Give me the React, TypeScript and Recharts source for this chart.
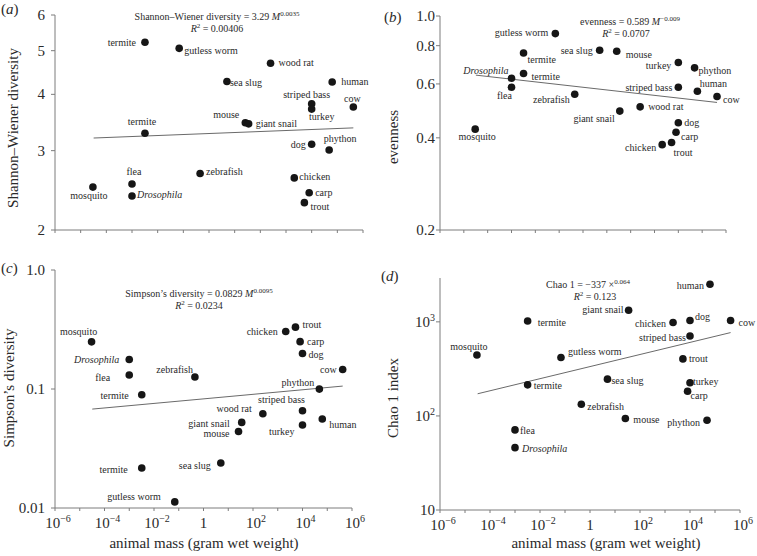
import React from 'react';
import { ScatterChart, Scatter, XAxis, YAxis } from 'recharts';

const animals = ['mosquito', 'Drosophila', 'flea', 'termite', 'termite', 'gutless worm', 'zebrafish', 'sea slug', 'mouse', 'giant snail', 'wood rat', 'chicken', 'trout', 'carp', 'dog', 'striped bass', 'turkey', 'phython', 'human', 'cow'];

// animal mass, gram wet weight
const masses = [3.0e-5, 1e-3, 1e-3, 3.2e-3, 3.2e-3, 0.069, 0.45, 5, 26, 35, 250, 2100, 5200, 8000, 10000, 10000, 10000, 48000, 63000, 420000];

const shannon = [2.49, 2.38, 2.53, 5.22, 3.28, 5.06, 2.67, 4.27, 3.46, 3.44, 4.69, 2.61, 2.3, 2.42, 3.1, 3.81, 3.71, 3.01, 4.26, 3.75];
const evenness = [0.427, 0.626, 0.585, 0.757, 0.649, 0.876, 0.555, 0.773, 0.767, 0.489, 0.505, 0.38, 0.386, 0.417, 0.448, 0.585, 0.705, 0.677, 0.568, 0.546];
const simpson = [0.249, 0.177, 0.131, 0.0894, 0.0217, 0.01125, 0.126, 0.0239, 0.044, 0.0524, 0.0619, 0.304, 0.331, 0.25, 0.199, 0.0656, 0.0498, 0.0998, 0.0559, 0.1457];
const chao1 = [445, 46, 71, 1022, 214, 418, 133, 246, 94, 1327, null, 983, 404, 183, 1032, 708, 225, 90, 2506, 1032];

// fitted power-law lines, end points
const fitMass = [3.2e-5, 4.2e5];
const shannonFit = [3.2, 3.37];
const evennessFit = [0.641, 0.522];
const simpsonFit = [0.0678, 0.1058];
const chaoFit = [172, 769];

const massTicks = [1e-6, 1e-5, 1e-4, 1e-3, 1e-2, 1e-1, 1, 10, 100, 1e3, 1e4, 1e5, 1e6];
const shannonTicks = [2, 3, 4, 5, 6];
const evennessTicks = [0.2, 0.4, 0.6, 0.8, 1.0];
const simpsonTicks = [0.01, 0.1, 1.0];
const chaoTicks = [10, 100, 1000];

// label placement per point: [anchor, dx, dy]
type Place = [string, number, number] | null;
const placeA: Place[] = [
  ['middle', -4, 8], ['start', 5, -1], ['middle', 2, -12], ['end', -9, 0], ['middle', -3, -12],
  ['start', 5, 2], ['start', 6, -2], ['start', 3, 1], ['end', -6, -8], ['start', 7, 0],
  ['start', 8, -1], ['start', 5, -1], ['start', 6, 4], ['start', 6, 0], ['end', -6, 0],
  ['middle', -5, -9], ['middle', 10, 7], ['middle', 11, -11], ['start', 9, -1], ['middle', -1, -8],
];
const placeB: Place[] = [
  ['middle', 2, 7], ['end', -3, -8], ['middle', -7, 8], ['start', 4, 6], ['start', 8, 3],
  ['end', -7, -1], ['end', -5, 5], ['end', -7, 0], ['start', 9, 3], ['end', -5, 7],
  ['start', 8, 0], ['end', -6, 3], ['start', 2, 10], ['start', 5, 4], ['start', 6, 0],
  ['end', -6, 0], ['end', -7, 3], ['start', 4, 3], ['middle', 16, -8], ['start', 6, 3],
];
const placeC: Place[] = [
  ['middle', -13, -10], ['end', -10, 0], ['end', -19, 2], ['end', -13, 1], ['end', -14, 2],
  ['end', -14, -5], ['end', -2, -8], ['end', -10, 3], ['end', -9, 2], ['end', -12, 1],
  ['end', -11, -5], ['end', -8, 0], ['start', 7, -3], ['start', 7, 0], ['start', 6, 1],
  ['middle', -21, -11], ['end', -8, 6], ['end', -5, -7], ['start', 7, 5], ['end', -6, 0],
];
const placeD: Place[] = [
  ['middle', -8, -8], ['start', 7, 1], ['start', 5, 1], ['start', 10, 2], ['start', 6, 1],
  ['start', 7, -6], ['start', 6, 2], ['start', 4, 1], ['start', 8, 1], ['end', -5, -1],
  null, ['end', -7, 1], ['start', 6, 0], ['start', 3, 4], ['start', 5, -4],
  ['end', -4, 2], ['start', 3, -1], ['end', -7, 2], ['end', -6, 1], ['start', 8, 2],
];

const FONT = "'Liberation Serif', 'Times New Roman', serif";
const INK = '#2a2a2a';
const AXIS = '#7c7c7c';

const toRows = (vals: (number | null)[]) =>
  animals
    .map((name, i) => ({ name, i, x: masses[i], y: vals[i] }))
    .filter((r) => r.y != null);

const toFit = (vals: number[]) => fitMass.map((x, i) => ({ x, y: vals[i] }));

const expLabel = (e: number) => (e < 0 ? '\u2212' + Math.abs(e) : String(e));

const PowerText = ({ x, y, e, anchor }: any) => (
  <text x={x} y={y} textAnchor={anchor} fontFamily={FONT} fontSize={15} fill={INK}>
    10
    <tspan dy={-6} fontSize={10}>{expLabel(e)}</tspan>
  </text>
);

const MassTick = (props: any) => {
  const { x, y, payload } = props;
  const e = Math.round(Math.log10(payload.value));
  if (e % 2 !== 0) return <g />;
  if (e === 0) {
    return (
      <text x={x} y={y + 16.5} textAnchor="middle" fontFamily={FONT} fontSize={15} fill={INK}>1</text>
    );
  }
  return <PowerText x={x + 3} y={y + 16.5} e={e} anchor="middle" />;
};

const makeYTick = (fmt: (v: number) => string) => (props: any) => {
  const { x, y, payload } = props;
  return (
    <text x={x} y={y + 5} textAnchor="end" fontFamily={FONT} fontSize={15} fill={INK}>
      {fmt(payload.value)}
    </text>
  );
};

const ChaoTick = (props: any) => {
  const { x, y, payload } = props;
  const e = Math.round(Math.log10(payload.value));
  if (e === 1) {
    return <text x={x} y={y + 5} textAnchor="end" fontFamily={FONT} fontSize={15} fill={INK}>10</text>;
  }
  return <PowerText x={x} y={y + 5} e={e} anchor="end" />;
};

const makeShape = (place: Place[]) => (props: any) => {
  const { cx, cy, payload } = props;
  const p = place[payload.i];
  return (
    <g>
      <circle cx={cx} cy={cy} r={3.8} fill="#161616" />
      {p && (
        <text
          x={cx + p[1]}
          y={cy + p[2] + 3.5}
          textAnchor={p[0]}
          fontFamily={FONT}
          fontSize={10}
          fontStyle={payload.name === 'Drosophila' ? 'italic' : 'normal'}
          fill={INK}
        >
          {payload.name}
        </text>
      )}
    </g>
  );
};

type PanelProps = {
  vals: (number | null)[];
  fit: number[];
  place: Place[];
  yDomain: [number, number];
  yTicks: number[];
  yTick: any;
  yGap: number;
  xLabels: boolean;
  plot: { left: number; top: number; right: number; bottom: number };
};

function Panel({ vals, fit, place, yDomain, yTicks, yTick, yGap, xLabels, plot }: PanelProps) {
  return (
    <div style={{ position: 'absolute', left: 0, top: 0 }}>
      <ScatterChart
        width={757}
        height={556}
        margin={{ top: plot.top, right: 757 - plot.right, bottom: 0, left: 0 }}
      >
        <XAxis
          type="number"
          dataKey="x"
          scale="log"
          domain={[1e-6, 1e6]}
          ticks={massTicks}
          height={556 - plot.bottom}
          tickSize={3}
          tickMargin={0}
          interval={0}
          tick={xLabels ? <MassTick /> : () => <g />}
          axisLine={{ stroke: AXIS }}
          tickLine={{ stroke: AXIS }}
        />
        <YAxis
          type="number"
          dataKey="y"
          scale="log"
          domain={yDomain}
          ticks={yTicks}
          width={plot.left}
          tickSize={4}
          tickMargin={yGap}
          interval={0}
          tick={yTick}
          axisLine={{ stroke: AXIS }}
          tickLine={{ stroke: AXIS }}
        />
        <Scatter
          data={toFit(fit)}
          line={{ stroke: '#6a6a6a', strokeWidth: 1 }}
          shape={() => <g />}
          isAnimationActive={false}
        />
        <Scatter data={toRows(vals)} shape={makeShape(place)} isAnimationActive={false} />
      </ScatterChart>
    </div>
  );
}

const Eq = ({ x, y, lead, sup, tail }: any) => (
  <text x={x} y={y} textAnchor="middle" fontFamily={FONT} fontSize={10} fill={INK}>
    {lead}
    {tail && <tspan fontStyle="italic">{tail}</tspan>}
    <tspan dy={-4} fontSize={7}>{sup}</tspan>
  </text>
);

const R2 = ({ x, y, v }: any) => (
  <text x={x} y={y} textAnchor="middle" fontFamily={FONT} fontSize={10} fill={INK}>
    <tspan fontStyle="italic">R</tspan>
    <tspan dy={-4} fontSize={7}>2</tspan>
    <tspan dy={4}>{' = ' + v}</tspan>
  </text>
);

const Letter = ({ x, y, c }: any) => (
  <text x={x} y={y} fontFamily={FONT} fontSize={15} fill={INK}>
    (<tspan fontStyle="italic">{c}</tspan>)
  </text>
);

const VTitle = ({ x, y, t }: any) => (
  <text
    x={x}
    y={y}
    transform={`rotate(-90 ${x} ${y})`}
    textAnchor="middle"
    dominantBaseline="central"
    fontFamily={FONT}
    fontSize={15}
    fill={INK}
  >
    {t}
  </text>
);

export default function App() {
  return (
    <div style={{ position: 'absolute', left: 0, top: 0, width: 757, height: 556, background: '#fff', fontFamily: FONT }}>
      <Panel
        vals={shannon}
        fit={shannonFit}
        place={placeA}
        yDomain={[2, 6]}
        yTicks={shannonTicks}
        yTick={makeYTick((v) => String(v))}
        yGap={6}
        xLabels={false}
        plot={{ left: 55, top: 15, right: 363, bottom: 230 }}
      />
      <Panel
        vals={evenness}
        fit={evennessFit}
        place={placeB}
        yDomain={[0.2, 1.0]}
        yTicks={evennessTicks}
        yTick={makeYTick((v) => v.toFixed(1))}
        yGap={1}
        xLabels={false}
        plot={{ left: 440, top: 16, right: 726, bottom: 230 }}
      />
      <Panel
        vals={simpson}
        fit={simpsonFit}
        place={placeC}
        yDomain={[0.01, 1.0]}
        yTicks={simpsonTicks}
        yTick={makeYTick((v) => (v >= 1 ? '1.0' : String(v)))}
        yGap={6}
        xLabels={true}
        plot={{ left: 55, top: 270, right: 352, bottom: 508 }}
      />
      <Panel
        vals={chao1}
        fit={chaoFit}
        place={placeD}
        yDomain={[10, 2925]}
        yTicks={chaoTicks}
        yTick={<ChaoTick />}
        yGap={1}
        xLabels={true}
        plot={{ left: 440, top: 278, right: 740, bottom: 510 }}
      />
      <svg width={757} height={556} style={{ position: 'absolute', left: 0, top: 0, pointerEvents: 'none' }}>
        <Letter x={1} y={14} c="a" />
        <Letter x={384} y={22} c="b" />
        <Letter x={1} y={273} c="c" />
        <Letter x={381} y={281} c="d" />

        <Eq x={217} y={20} lead={'Shannon\u2013Wiener diversity = 3.29 '} tail="M" sup="0.0035" />
        <R2 x={217} y={32} v="0.00406" />
        <Eq x={630} y={25} lead={'evenness = 0.589 '} tail="M" sup={'\u22120.009'} />
        <R2 x={626} y={37} v="0.0707" />
        <Eq x={199} y={297} lead={'Simpson\u2019s diversity = 0.0829 '} tail="M" sup="0.0095" />
        <R2 x={199} y={309} v="0.0234" />
        <Eq x={588} y={288} lead={'Chao 1 = \u2212337 \u00d7'} sup="0.064" />
        <R2 x={595} y={300} v="0.123" />

        <VTitle x={13} y={128} t={'Shannon\u2013Wiener diversity'} />
        <VTitle x={393} y={137} t="evenness" />
        <VTitle x={9} y={388} t={'Simpson\u2019s diversity'} />
        <VTitle x={393} y={398} t="Chao 1 index" />

        <text x={204} y={548} textAnchor="middle" fontFamily={FONT} fontSize={15} fill={INK}>
          animal mass (gram wet weight)
        </text>
        <text x={606} y={548} textAnchor="middle" fontFamily={FONT} fontSize={15} fill={INK}>
          animal mass (gram wet weight)
        </text>
      </svg>
    </div>
  );
}
